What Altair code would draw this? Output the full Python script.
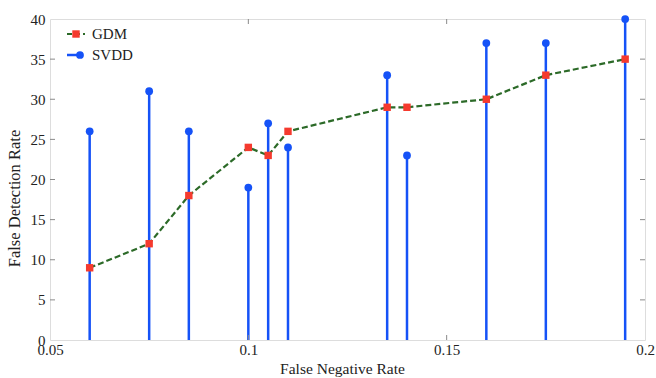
import altair as alt
import pandas as pd

# ---- data ----
fnr = [0.06, 0.075, 0.085, 0.1, 0.105, 0.11, 0.135, 0.14, 0.16, 0.175, 0.195]
gdm = [9, 12, 18, 24, 23, 26, 29, 29, 30, 33, 35]
svdd = [26, 31, 26, 19, 27, 24, 33, 23, 37, 37, 40]
x_ticks = [0.05, 0.1, 0.15, 0.2]
y_ticks = [0, 5, 10, 15, 20, 25, 30, 35, 40]
series_names = ["GDM", "SVDD"]

df = pd.DataFrame({"fnr": fnr, "gdm": gdm, "svdd": svdd})

W, H = 595, 321
FONT = "Liberation Serif"
BLUE = "#1552f7"
RED = "#f53a2e"
GREEN = "#2c6a28"
GRAY = "#8a8a8a"
XT = "False Negative Rate"
YT = "False Detection Rate"

xs = alt.Scale(domain=[0.05, 0.2], nice=False, zero=False)
ys = alt.Scale(domain=[0, 40], nice=False)

x_axis = alt.Axis(values=x_ticks, format="~g", tickSize=0, grid=False, domain=False,
                  labelFont=FONT, labelFontSize=15, labelColor="#222", labelPadding=2,
                  title=XT, titleFont=FONT, titleFontSize=15.5, titleFontWeight="normal",
                  titleColor="#222", titlePadding=4, titleX=292, labelFlush=False)
y_axis = alt.Axis(values=y_ticks, tickSize=0, grid=False, domain=False,
                  labelFont=FONT, labelFontSize=15, labelColor="#222", labelPadding=5,
                  title=YT, titleFont=FONT, titleFontSize=16.5, titleFontWeight="normal",
                  titleColor="#222", titlePadding=8, titleY=179, labelFlush=False)

base = alt.Chart(df)

stems = base.mark_rule(color=BLUE, strokeWidth=2.5).encode(
    x=alt.X("fnr:Q", scale=xs, axis=x_axis, title=XT),
    y=alt.Y("svdd:Q", scale=ys, axis=y_axis, title=YT),
    y2=alt.datum(0),
)
gdm_line = base.mark_line(color=GREEN, strokeWidth=2.2, strokeDash=[6, 3]).encode(
    x=alt.X("fnr:Q", scale=xs, title=XT),
    y=alt.Y("gdm:Q", scale=ys, title=YT),
)
gdm_pts = base.mark_point(shape="square", filled=True, color=RED, size=55, opacity=1).encode(
    x=alt.X("fnr:Q", scale=xs, title=XT),
    y=alt.Y("gdm:Q", scale=ys, title=YT),
)
svdd_pts = base.mark_circle(color=BLUE, size=60, opacity=1).encode(
    x=alt.X("fnr:Q", scale=xs, title=XT),
    y=alt.Y("svdd:Q", scale=ys, title=YT),
)

ydf = pd.DataFrame({"v": y_ticks[1:-1]})
xdf = pd.DataFrame({"v": x_ticks[1:-1]})
tick_l = alt.Chart(ydf).mark_rule(color=GRAY, strokeWidth=1).encode(
    y=alt.Y("v:Q", scale=ys, title=YT), x=alt.value(0), x2=alt.value(5))
tick_r = alt.Chart(ydf).mark_rule(color=GRAY, strokeWidth=1).encode(
    y=alt.Y("v:Q", scale=ys, title=YT), x=alt.value(W - 5), x2=alt.value(W))
tick_b = alt.Chart(xdf).mark_rule(color=GRAY, strokeWidth=1).encode(
    x=alt.X("v:Q", scale=xs, title=XT), y=alt.value(H - 5), y2=alt.value(H))
tick_t = alt.Chart(xdf).mark_rule(color=GRAY, strokeWidth=1).encode(
    x=alt.X("v:Q", scale=xs, title=XT), y=alt.value(0), y2=alt.value(5))

# ---- manual legend ----
leg_g = pd.DataFrame({"name": [series_names[0]]})
leg_s = pd.DataFrame({"name": [series_names[1]]})
lg_line = alt.Chart(leg_g).mark_rule(color=GREEN, strokeWidth=2.2, strokeDash=[5, 3]).encode(
    x=alt.value(17), x2=alt.value(35), y=alt.value(15))
lg_pt = alt.Chart(leg_g).mark_point(shape="square", filled=True, color=RED, size=55, opacity=1).encode(
    x=alt.value(26), y=alt.value(15))
lg_txt = alt.Chart(leg_g).mark_text(align="left", baseline="middle", font=FONT, fontSize=15,
                                    color="#222").encode(x=alt.value(42), y=alt.value(15), text="name:N")
ls_line = alt.Chart(leg_s).mark_rule(color=BLUE, strokeWidth=2.5).encode(
    x=alt.value(17), x2=alt.value(33), y=alt.value(36))
ls_pt = alt.Chart(leg_s).mark_circle(color=BLUE, size=60, opacity=1).encode(
    x=alt.value(30), y=alt.value(36))
ls_txt = alt.Chart(leg_s).mark_text(align="left", baseline="middle", font=FONT, fontSize=15,
                                    color="#222").encode(x=alt.value(42), y=alt.value(36), text="name:N")

chart = alt.layer(
    stems, gdm_line, gdm_pts, svdd_pts,
    tick_l, tick_r, tick_b, tick_t,
    lg_line, lg_pt, lg_txt, ls_line, ls_pt, ls_txt,
).properties(
    width=W, height=H,
    padding={"left": 50, "top": 19, "right": 11, "bottom": 38},
    autosize=alt.AutoSizeParams(type="none"),
).configure_view(
    stroke=GRAY, strokeWidth=1.2, clip=False
).configure(background="white")

chart.save("out.html", embed_options={"renderer": "svg", "actions": False})
